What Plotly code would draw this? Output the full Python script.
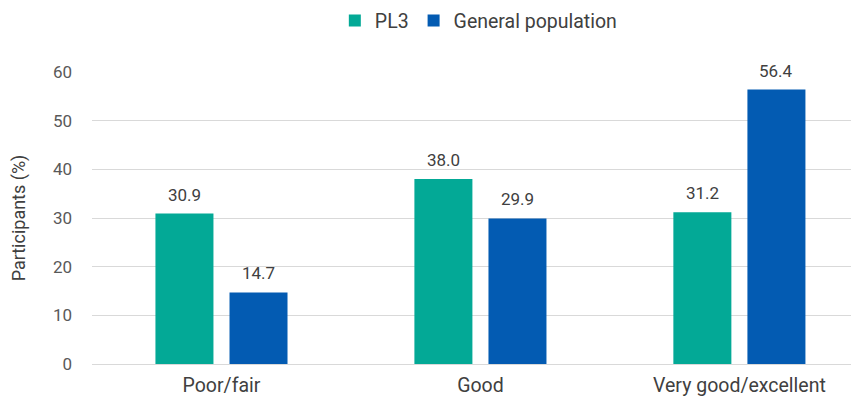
import plotly.graph_objects as go

categories = ["Poor/fair", "Good", "Very good/excellent"]
pl3 = [30.9, 38.0, 31.2]
general = [14.7, 29.9, 56.4]

TEAL = "#03A996"
BLUE = "#035BB2"
FONT = "Roboto, Arial, sans-serif"

BAR_W = 0.224
OFFSETS = [-0.255, 0.031]

fig = go.Figure()
for vals, name, color, off in [(pl3, "PL3", TEAL, OFFSETS[0]),
                               (general, "General population", BLUE, OFFSETS[1])]:
    fig.add_trace(go.Bar(
        x=categories, y=vals, name=name,
        marker=dict(color=color, line=dict(width=0)),
        width=BAR_W, offset=off,
    ))
    # value labels above each bar
    for i, v in enumerate(vals):
        fig.add_annotation(
            x=i + off + BAR_W / 2, y=v, text=f"{v:.1f}",
            showarrow=False, yanchor="bottom", yshift=7,
            font=dict(size=17, color="#404040"),
        )

# page body has an 8px default margin, so the figure is sized 8px smaller
fig.update_layout(
    width=851, height=392,
    margin=dict(l=84, r=1, t=64, b=36),
    paper_bgcolor="white", plot_bgcolor="white",
    font=dict(family=FONT, size=17, color="#595959"),
    barmode="group",
    legend=dict(orientation="h", x=0.505, xanchor="center", y=0.967, yanchor="middle",
                yref="container", font=dict(size=19.5, color="#404040"),
                itemwidth=30, traceorder="normal"),
    xaxis=dict(range=[-0.5, 2.458], showgrid=False, showline=False, ticks="",
               automargin=False, ticklabelstandoff=7,
               tickfont=dict(size=19.5, color="#404040")),
    yaxis=dict(range=[0, 60], dtick=10, showgrid=True, gridcolor="#D9D9D9", gridwidth=1,
               zeroline=True, zerolinecolor="#D9D9D9", zerolinewidth=1, showline=False,
               automargin=False, ticklabelstandoff=19,
               tickfont=dict(size=17, color="#595959"),
               title=dict(text="Participants (%)", font=dict(size=18, color="#404040"),
                          standoff=28)),
)

fig.write_html("out.html")
